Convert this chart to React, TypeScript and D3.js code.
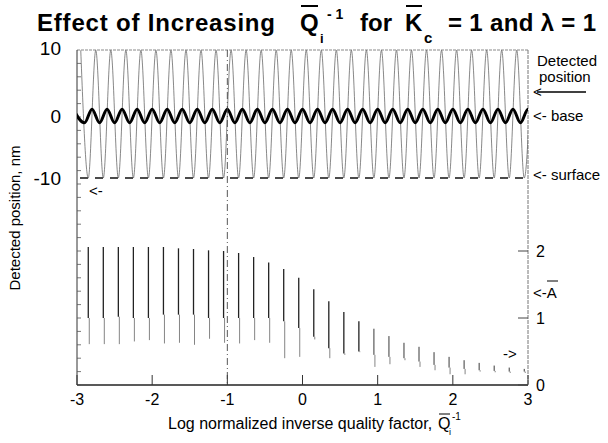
import React from 'react'
import * as d3 from 'd3'

// axis ticks
const xTicks = [-3, -2, -1, 0, 1, 2, 3]
const posTicks = [10, 0, -10]
const ampTicks = [0, 1, 2]

// one entry per oscillation cycle (log Q position of the surface contact)
const cycleLogQ = [-2.85, -2.65, -2.45, -2.25, -2.05, -1.85, -1.65, -1.45, -1.25, -1.05,
  -0.85, -0.65, -0.45, -0.25, -0.05, 0.15, 0.35, 0.55, 0.75, 0.95,
  1.15, 1.35, 1.55, 1.75, 1.95, 2.15, 2.35, 2.55, 2.75, 2.95]

// detected tip position, nm
const tipCrest = [10.6, 10.6, 10.6, 10.6, 10.6, 10.6, 10.6, 10.6, 10.6, 10.6,
  10.6, 10.6, 10.6, 10.6, 10.6, 10.6, 10.6, 10.6, 10.6, 10.6,
  10.6, 10.6, 10.6, 10.6, 10.6, 10.6, 10.6, 10.6, 10.6, 10.6]
const tipTrough = [-10, -10, -10, -10, -10, -10, -10, -10, -10, -10,
  -10, -10, -10, -10, -10, -10, -10, -10, -10, -10,
  -10, -10, -10, -10, -10, -10, -10, -10, -10, -10]

// base position, nm
const baseCrest = [1.1, 1.1, 1.1, 1.1, 1.1, 1.1, 1.1, 1.1, 1.1, 1.1,
  1.1, 1.1, 1.1, 1.1, 1.1, 1.1, 1.1, 1.1, 1.1, 1.1,
  1.1, 1.1, 1.1, 1.1, 1.1, 1.1, 1.1, 1.1, 1.1, 1.1]
const baseTrough = [-1.1, -1.1, -1.1, -1.1, -1.1, -1.1, -1.1, -1.1, -1.1, -1.1,
  -1.1, -1.1, -1.1, -1.1, -1.1, -1.1, -1.1, -1.1, -1.1, -1.1,
  -1.1, -1.1, -1.1, -1.1, -1.1, -1.1, -1.1, -1.1, -1.1, -1.1]

const surfaceLevel = -10
const markerLogQ = -1

// normalized amplitude A per cycle: top, end of dark part, bottom
const ampTop = [2.06, 2.06, 2.06, 2.06, 2.06, 2.06, 2.04, 2.03, 2.01, 2.0,
  1.97, 1.91, 1.83, 1.73, 1.6, 1.43, 1.25, 1.09, 0.95, 0.84,
  0.73, 0.63, 0.57, 0.49, 0.42, 0.37, 0.33, 0.29, 0.26, 0.24]
const ampDark = [1.0, 1.0, 1.02, 1.0, 1.0, 1.05, 1.05, 1.05, 1.0, 1.0,
  1.0, 1.0, 1.0, 0.95, 0.85, 0.72, 0.55, 0.47, 0.5, 0.45,
  0.42, 0.4, 0.35, 0.3, 0.26, 0.24, 0.22, 0.21, 0.2, 0.2]
const ampBottom = [0.61, 0.61, 0.61, 0.65, 0.67, 0.62, 0.63, 0.6, 0.69, 0.63,
  0.62, 0.67, 0.63, 0.4, 0.42, 0.68, 0.4, 0.45, 0.49, 0.27,
  0.31, 0.37, 0.27, 0.22, 0.16, 0.16, 0.2, 0.19, 0.18, 0.18]

const W = 608, H = 443
const FONT = 'Liberation Sans, Arial, Helvetica, sans-serif'

const App = () => {
  const x = d3.scaleLinear().domain([-3, 3]).range([77, 528])
  const yPos = d3.scaleLinear().domain([-10, 10]).range([178, 54])
  const yAmp = d3.scaleLinear().domain([0, 5]).range([385, 50])

  // half a cycle between crest and trough
  const half = 0.1
  const tipPts: [number, number][] = []
  cycleLogQ.forEach((q, i) => {
    tipPts.push([q - half, tipCrest[i]])
    tipPts.push([q, tipTrough[i]])
  })
  tipPts.push([cycleLogQ[cycleLogQ.length - 1] + half, tipCrest[tipCrest.length - 1]])

  const basePts: [number, number][] = [[-3.05, baseCrest[0]]]
  cycleLogQ.forEach((q, i) => {
    basePts.push([q - 0.05, baseTrough[i]])
    basePts.push([q + 0.05, baseCrest[i]])
  })
  basePts.push([3.05, baseTrough[baseTrough.length - 1]])

  const line = d3.line<[number, number]>()
    .x(d => x(d[0]))
    .y(d => yPos(d[1]))
    .curve(d3.curveMonotoneX)

  const minorTicks = d3.range(0, 25).map(i => i * 0.2)

  return (
    <div style={{ position: 'absolute', left: 0, top: 0 }}>
      <svg width={W} height={H} style={{ display: 'block', background: '#fff' }} fontFamily={FONT}>
        <defs>
          <clipPath id="plot">
            <rect x={x(-3)} y={yAmp(5) - 1} width={x(3) - x(-3)} height={yAmp(0) - yAmp(5) + 1} />
          </clipPath>
        </defs>

        {/* title */}
        <g fontWeight="bold" fontSize={24} fill="#000">
          <text x={37} y={31} textLength={238} lengthAdjust="spacing">Effect of Increasing</text>
          <text x={300} y={31}>Q</text>
          <line x1={301} x2={318} y1={6} y2={6} stroke="#000" strokeWidth={2} />
          <text x={320} y={43} fontSize={13}>i</text>
          <text x={327} y={19} fontSize={14}>- 1</text>
          <text x={360} y={31}>for</text>
          <text x={405} y={31}>K</text>
          <line x1={406} x2={422} y1={6} y2={6} stroke="#000" strokeWidth={2} />
          <text x={424} y={43} fontSize={15}>c</text>
          <text x={448} y={31} textLength={148} lengthAdjust="spacing">= 1 and λ = 1</text>
        </g>

        {/* frame */}
        <line x1={x(-3)} x2={x(3)} y1={yAmp(5)} y2={yAmp(5)} stroke="#888" strokeWidth={1} strokeDasharray="3,1" />
        <line x1={x(3)} x2={x(3)} y1={yAmp(5)} y2={yAmp(0)} stroke="#777" strokeWidth={1} strokeDasharray="4,1" />
        <line x1={x(-3)} x2={x(-3)} y1={yAmp(5)} y2={yAmp(0)} stroke="#333" strokeWidth={1} />
        <line x1={x(-3)} x2={x(3)} y1={yAmp(0)} y2={yAmp(0)} stroke="#222" strokeWidth={1.3} />

        {/* left minor ticks */}
        {minorTicks.map(t => (
          <line key={'m' + t} x1={x(-3)} x2={x(-3) + 4} y1={yAmp(t)} y2={yAmp(t)} stroke="#555" strokeWidth={0.8} />
        ))}
        {/* bottom ticks */}
        {xTicks.map(t => (
          <g key={'x' + t}>
            <line x1={x(t)} x2={x(t)} y1={yAmp(0)} y2={yAmp(0) - 10} stroke="#333" strokeWidth={1} />
            <text x={x(t)} y={405} fontSize={16} textAnchor="middle">{t}</text>
          </g>
        ))}
        {/* right amplitude ticks */}
        {ampTicks.map(t => (
          <g key={'a' + t}>
            <line x1={x(3)} x2={x(3) - 10} y1={yAmp(t)} y2={yAmp(t)} stroke="#444" strokeWidth={1} />
            <text x={536} y={yAmp(t) + 6} fontSize={16}>{t}</text>
          </g>
        ))}
        {/* left position labels */}
        {posTicks.map(t => (
          <text key={'p' + t} x={61} y={t === 10 ? 55 : yPos(t) + 7} fontSize={19} textAnchor="end">{t}</text>
        ))}

        <g clipPath="url(#plot)">
          {/* surface */}
          <line x1={x(-3)} x2={x(3)} y1={yPos(surfaceLevel)} y2={yPos(surfaceLevel)}
            stroke="#111" strokeWidth={1.3} strokeDasharray="8,7" strokeDashoffset={-3} />
          {/* detected position */}
          <path d={line(tipPts) || ''} fill="none" stroke="#555" strokeWidth={0.7} />
          {/* base */}
          <path d={line(basePts) || ''} fill="none" stroke="#000" strokeWidth={3} />
          {/* marker at log Q = -1 */}
          <line x1={x(markerLogQ)} x2={x(markerLogQ)} y1={yAmp(5)} y2={yAmp(0)}
            stroke="#444" strokeWidth={0.9} strokeDasharray="7,3,1,3" />
          {/* amplitude bars */}
          {cycleLogQ.map((q, i) => (
            <g key={'b' + i}>
              <line x1={x(q) + 1} x2={x(q) + 1} y1={yAmp(ampBottom[i])} y2={yAmp(ampDark[i])}
                stroke="#666" strokeWidth={0.8} />
              <line x1={x(q)} x2={x(q)} y1={yAmp(ampDark[i])} y2={yAmp(ampTop[i])}
                stroke="#222" strokeWidth={i < 19 ? 1.3 : 0.9} />
            </g>
          ))}
        </g>

        {/* annotations */}
        <g fontSize={15} fill="#000">
          <text x={537} y={66}>Detected</text>
          <text x={539} y={82}>position</text>
          <text x={533} y={97}>&lt;</text>
          <line x1={537} x2={586} y1={92} y2={92} stroke="#000" strokeWidth={1.5} />
          <text x={533} y={121}>&lt;- base</text>
          <text x={533} y={180}>&lt;- surface</text>
          <text x={533} y={298}>&lt;-A</text>
          <line x1={547} x2={558} y1={281} y2={281} stroke="#000" strokeWidth={1} />
          <text x={89} y={196}>&lt;-</text>
          <text x={503} y={359}>-&gt;</text>
        </g>

        {/* axis titles */}
        <text transform="translate(20,218) rotate(-90)" fontSize={15} textAnchor="middle">Detected position, nm</text>
        <g fontSize={16}>
          <text x={168} y={429}>Log normalized inverse quality factor,</text>
          <text x={438} y={429}>Q</text>
          <line x1={439} x2={450} y1={414} y2={414} stroke="#000" strokeWidth={1} />
          <text x={449} y={435} fontSize={9}>i</text>
          <text x={452} y={420} fontSize={10}>-1</text>
        </g>
      </svg>
    </div>
  )
}

export default App
